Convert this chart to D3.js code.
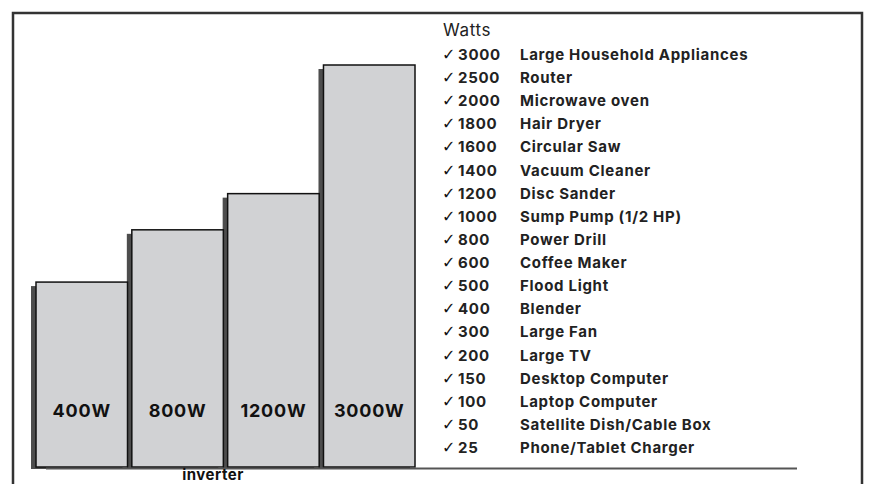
<!DOCTYPE html>
<html>
<head>
<meta charset="utf-8">
<script src="https://cdn.jsdelivr.net/npm/d3@7"></script>
<style>
  body { margin: 0; background: #fff; }
  svg { display: block; font-family: Inter, "Noto Sans", sans-serif; }
</style>
</head>
<body>
<div id="grafico"></div>
<script>
// inverter sizes (bars) and their drawn height as % of the tallest bar
const inversores = ["400W", "800W", "1200W", "3000W"]
const alturaRel = [46, 59, 68, 100]

// appliance list
const vatios = [3000, 2500, 2000, 1800, 1600, 1400, 1200, 1000, 800, 600, 500, 400, 300, 200, 150, 100, 50, 25]
const aparatos = ["Large Household Appliances", "Router", "Microwave oven", "Hair Dryer", "Circular Saw",
  "Vacuum Cleaner", "Disc Sander", "Sump Pump (1/2 HP)", "Power Drill", "Coffee Maker", "Flood Light",
  "Blender", "Large Fan", "Large TV", "Desktop Computer", "Laptop Computer", "Satellite Dish/Cable Box",
  "Phone/Tablet Charger"]

const ancho = 872
const alto = 484
const base = 467

const svg = d3.select("#grafico")
  .append("svg")
  .attr("width", ancho)
  .attr("height", alto)

// frame (open at the bottom)
svg.append("path")
  .attr("d", `M13,${alto + 2} V13 H862 V${alto + 2}`)
  .attr("fill", "none")
  .attr("stroke", "#333")
  .attr("stroke-width", 2.5)

const x = d3.scaleBand().domain(inversores).range([36, 415]).paddingInner(0.045)
const y = d3.scaleLinear().domain([0, 100]).range([base, 65])

const datos = inversores.map((d, i) => ({ nombre: d, h: alturaRel[i] }))

// shadows
svg.selectAll("rect.sombra")
  .data(datos)
  .enter()
  .append("rect")
  .attr("class", "sombra")
  .attr("x", d => x(d.nombre) - 5)
  .attr("y", d => y(d.h) + 4)
  .attr("width", x.bandwidth())
  .attr("height", d => base + 1 - y(d.h) - 4 + 1)
  .attr("fill", "#4d4d4d")

// bars
svg.selectAll("rect.barra")
  .data(datos)
  .enter()
  .append("rect")
  .attr("class", "barra")
  .attr("x", d => x(d.nombre))
  .attr("y", d => y(d.h))
  .attr("width", x.bandwidth())
  .attr("height", d => base - y(d.h))
  .attr("fill", "#d1d2d4")
  .attr("stroke", "#111")
  .attr("stroke-width", 1.5)

svg.selectAll("text.etiqueta")
  .data(datos)
  .enter()
  .append("text")
  .attr("class", "etiqueta")
  .attr("x", d => x(d.nombre) + x.bandwidth() / 2)
  .attr("y", 417)
  .attr("text-anchor", "middle")
  .attr("font-size", 18)
  .attr("font-weight", 700)
  .attr("letter-spacing", 0.8)
  .attr("fill", "#111")
  .text(d => d.nombre)

// baseline
svg.append("line")
  .attr("x1", 46).attr("x2", 797)
  .attr("y1", base + 1.5).attr("y2", base + 1.5)
  .attr("stroke", "#555")
  .attr("stroke-width", 2)

svg.append("text")
  .attr("x", 213)
  .attr("y", 480)
  .attr("text-anchor", "middle")
  .attr("font-size", 15)
  .attr("font-weight", 700)
  .attr("letter-spacing", 0.5)
  .attr("fill", "#111")
  .text("inverter")

// list
const lista = svg.append("g")

lista.append("text")
  .attr("x", 443)
  .attr("y", 36)
  .attr("font-size", 17)
  .attr("letter-spacing", 0.6)
  .attr("fill", "#222")
  .text("Watts")

const filaY = d3.scalePoint().domain(d3.range(vatios.length)).range([60, 453])

const filas = lista.selectAll("g.fila")
  .data(vatios.map((v, i) => ({ v: v, nombre: aparatos[i], i: i })))
  .enter()
  .append("g")
  .attr("class", "fila")
  .attr("transform", d => `translate(0, ${filaY(d.i)})`)

filas.append("text")
  .attr("x", 442)
  .attr("font-size", 16)
  .attr("font-family", "DejaVu Sans")
  .attr("fill", "#111")
  .text("\u2713")

filas.append("text")
  .attr("x", 458)
  .attr("font-size", 15)
  .attr("font-weight", 700)
  .attr("letter-spacing", 0.7)
  .attr("fill", "#222")
  .text(d => d.v)

filas.append("text")
  .attr("x", 520)
  .attr("font-size", 15)
  .attr("font-weight", 700)
  .attr("letter-spacing", 0.7)
  .attr("fill", "#222")
  .text(d => d.nombre)
</script>
</body>
</html>
